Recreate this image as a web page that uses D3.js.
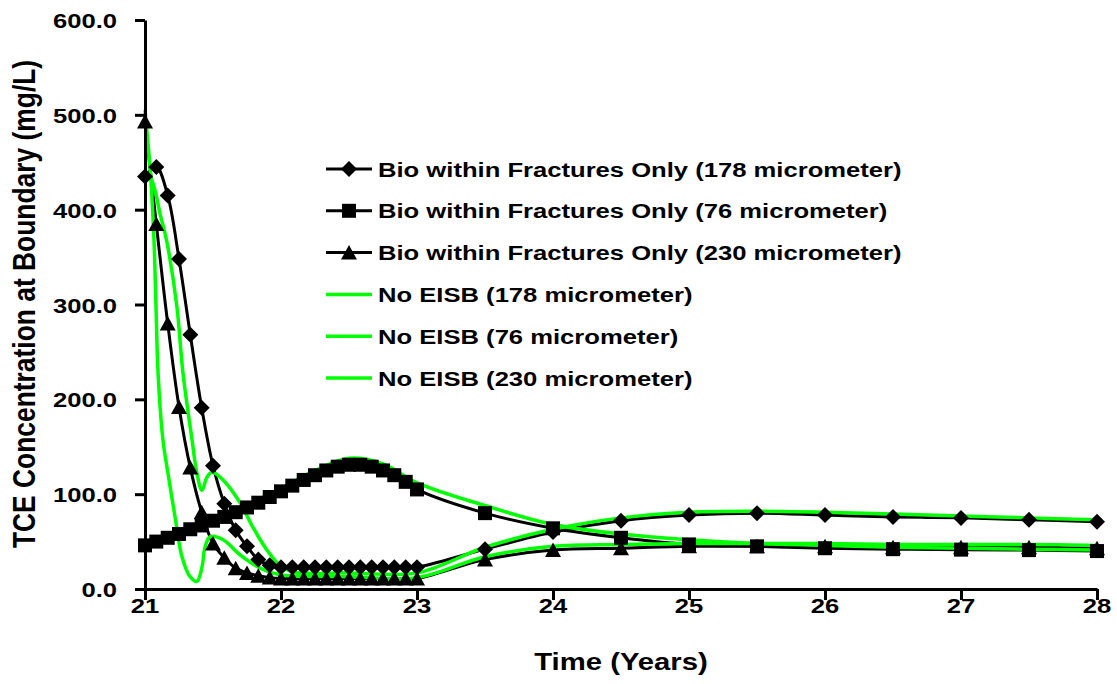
<!DOCTYPE html>
<html>
<head>
<meta charset="utf-8">
<script src="https://cdn.jsdelivr.net/npm/d3@7"></script>
<style>
  html, body { margin: 0; padding: 0; background: #fff; }
  svg { display: block; }
</style>
</head>
<body>
<svg id="chart" width="1117" height="684"></svg>
<script>
// Time axis (years) for the biodegradation runs: monthly to year 23, then half-yearly
const timeBio = [21, 21.083, 21.167, 21.25, 21.333, 21.417, 21.5, 21.583, 21.667, 21.75, 21.833, 21.917,
  22, 22.083, 22.167, 22.25, 22.333, 22.417, 22.5, 22.583, 22.667, 22.75, 22.833, 22.917,
  23, 23.5, 24, 24.5, 25, 25.5, 26, 26.5, 27, 27.5, 28];

// TCE concentration (mg/L), biodegradation within fractures only
const bio178 = [435, 445, 415, 348, 268, 191, 130, 90, 62, 45, 31, 25,
  23, 23, 23, 23, 23, 23, 23, 23, 23, 23, 23, 23,
  23, 42, 60, 72, 78, 80, 78, 76, 75, 73, 71];
const bio76 = [46, 50, 54, 58, 63, 67, 72, 76, 81, 86, 91, 97,
  103, 109, 115, 120, 125, 129, 131, 131, 129, 125, 120, 113,
  105, 80, 64, 54, 47, 45, 43, 42, 41.5, 41, 40];
const bio230 = [493, 385, 280, 192, 128, 81, 48, 33, 22, 17, 14, 12,
  11, 11, 11, 11, 11, 11, 11, 11, 11, 11, 11, 11,
  11, 31, 41, 43, 45, 45, 45, 44, 44, 44, 43];

// No EISB runs
const timeNo178 = [21, 21.037, 21.074, 21.11, 21.147, 21.169, 21.235, 21.279, 21.346, 21.382, 21.419, 21.456,
  21.493, 21.574, 21.699, 21.794, 21.897, 21.993, 22.088, 22.5, 23, 23.5, 24, 24.5, 25, 25.5, 26, 26.5, 27, 27.5, 28];
const noEisb178 = [435, 434, 420, 396, 375, 360, 297, 228, 157, 122, 104, 118,
  123, 115, 91, 65, 41, 25, 18, 17, 17, 44, 63, 75, 81, 82, 81, 79, 77, 75, 73];

const timeNo76 = [21, 21.25, 21.5, 21.75, 22, 22.25, 22.5, 22.75, 23, 23.5, 24, 24.5, 25, 25.5, 26, 26.5, 27, 27.5, 28];
const noEisb76 = [46, 60, 73, 89, 106, 125, 138, 132, 112, 88, 68, 58, 52, 48, 46, 44, 43, 42, 41];

const timeNo230 = [21, 21.022, 21.044, 21.066, 21.081, 21.096, 21.132, 21.169, 21.221, 21.272, 21.331, 21.382,
  21.419, 21.441, 21.478, 21.574, 21.699, 21.846, 21.993, 22.5, 23, 23.5, 24, 24.5, 25, 25.5, 26, 26.5, 27, 27.5, 28];
const noEisb230 = [505, 470, 430, 368, 297, 228, 157, 122, 76, 34, 13, 8,
  23, 44, 55, 52, 36, 22, 15, 13, 12, 34, 45, 47, 48, 48, 48, 47, 47, 47, 46];

const xTicks = [21, 22, 23, 24, 25, 26, 27, 28];
const yTicks = [0, 100, 200, 300, 400, 500, 600];

const legendLabels = [
  "Bio within Fractures Only (178 micrometer)",
  "Bio within Fractures Only (76 micrometer)",
  "Bio within Fractures Only (230 micrometer)",
  "No EISB (178 micrometer)",
  "No EISB (76 micrometer)",
  "No EISB (230 micrometer)"
];

const GREEN = "#00ff00";
const FONT = "'Liberation Sans', Arial, Helvetica, sans-serif";
const SX = 1.22; // horizontal glyph stretch of the text

const svg = d3.select("#chart");
const x = d3.scaleLinear().domain([21, 28]).range([145, 1097]);
const y = d3.scaleLinear().domain([0, 600]).range([589, 20]);

// marker shapes
const shapes = {
  diamond: "M0,-8L8,0L0,8L-8,0Z",
  square: "M-7,-7H7V7H-7Z",
  triangle: "M0,-7.5L8,7H-8Z"
};

function label(parent, px, py, str, size, anchor, rot) {
  const g = parent.append("g")
    .attr("transform", `translate(${px},${py}) scale(${SX},1)` + (rot ? ` rotate(${rot})` : ""));
  g.append("text")
    .attr("text-anchor", anchor)
    .attr("font-family", FONT)
    .attr("font-weight", "bold")
    .attr("font-size", size)
    .attr("fill", "#000")
    .text(str);
}

const line = d3.line().curve(d3.curveCatmullRom.alpha(0.5));

const bioSeries = [
  { t: timeBio, v: bio178, shape: "diamond" },
  { t: timeBio, v: bio76, shape: "square" },
  { t: timeBio, v: bio230, shape: "triangle" }
];
const noSeries = [
  { t: timeNo178, v: noEisb178 },
  { t: timeNo76, v: noEisb76 },
  { t: timeNo230, v: noEisb230 }
];

const plot = svg.append("g");

// black lines of the biodegradation runs
bioSeries.forEach(s => {
  plot.append("path")
    .attr("d", line(s.t.map((t, i) => [x(t), y(s.v[i])])))
    .attr("fill", "none").attr("stroke", "#000").attr("stroke-width", 3)
    .attr("stroke-linejoin", "round");
});

// green No EISB lines
noSeries.forEach(s => {
  plot.append("path")
    .attr("d", line(s.t.map((t, i) => [x(t), y(s.v[i])])))
    .attr("fill", "none").attr("stroke", GREEN).attr("stroke-width", 3.5)
    .attr("stroke-linejoin", "round");
});

// markers
bioSeries.forEach(s => {
  plot.append("g").selectAll("path").data(s.t.map((t, i) => [t, s.v[i]])).join("path")
    .attr("d", shapes[s.shape])
    .attr("transform", d => `translate(${x(d[0])},${y(d[1])})`)
    .attr("fill", "#000");
});

// axes
const yAxis = d3.axisLeft(y).tickValues(yTicks).tickSize(10).tickSizeOuter(0).tickFormat("");
const xAxis = d3.axisBottom(x).tickValues(xTicks).tickSize(11).tickSizeOuter(0).tickFormat("");

const gy = svg.append("g").attr("transform", `translate(${x(21)},0)`).call(yAxis);
const gx = svg.append("g").attr("transform", `translate(0,${y(0)})`).call(xAxis);
[gy, gx].forEach(g => {
  g.select(".domain").attr("stroke", "#000").attr("stroke-width", 3);
  g.selectAll(".tick line").attr("stroke", "#000").attr("stroke-width", 3);
});

yTicks.forEach(v => label(svg, 117, y(v) + 8, d3.format(".1f")(v), 21, "end"));
xTicks.forEach(v => label(svg, x(v), 613, String(v), 21, "middle"));

label(svg, 621, 670, "Time (Years)", 24, "middle");
label(svg, 35, 304, "TCE Concentration at Boundary (mg/L)", 26.4, "middle", -90);

// legend
const legend = svg.append("g");
const legendY0 = 169, legendDy = 41.8;
legendLabels.forEach((txt, i) => {
  const cy = legendY0 + i * legendDy;
  const isBio = i < 3;
  legend.append("line")
    .attr("x1", 326).attr("x2", 372).attr("y1", cy).attr("y2", cy)
    .attr("stroke", isBio ? "#000" : GREEN).attr("stroke-width", isBio ? 3 : 3.5);
  if (isBio) {
    legend.append("path").attr("d", shapes[bioSeries[i].shape])
      .attr("transform", `translate(349,${cy})`).attr("fill", "#000");
  }
  label(legend, 378, cy + 7.5, txt, 21, "start");
});
</script>
</body>
</html>
